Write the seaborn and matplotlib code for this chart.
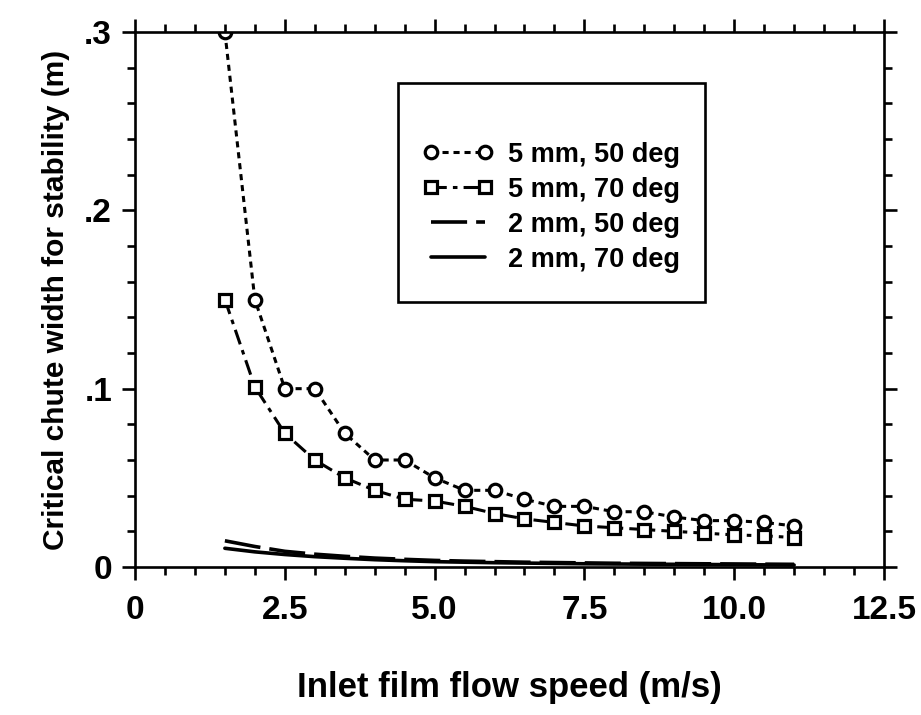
import matplotlib
matplotlib.use("Agg")
import matplotlib.pyplot as plt
import seaborn as sns
import numpy as np
from matplotlib.patches import Rectangle
from matplotlib.ticker import FixedLocator, FixedFormatter, MultipleLocator

# ---- data ----
speed = [1.5, 2.0, 2.5, 3.0, 3.5, 4.0, 4.5, 5.0, 5.5, 6.0,
         6.5, 7.0, 7.5, 8.0, 8.5, 9.0, 9.5, 10.0, 10.5, 11.0]
w_5mm_50 = [0.300, 0.150, 0.100, 0.100, 0.075, 0.060, 0.060, 0.050, 0.043, 0.043,
            0.038, 0.034, 0.034, 0.031, 0.031, 0.028, 0.026, 0.026, 0.025, 0.023]
w_5mm_70 = [0.150, 0.101, 0.075, 0.060, 0.050, 0.043, 0.038, 0.037, 0.034, 0.030,
            0.027, 0.025, 0.023, 0.022, 0.021, 0.020, 0.019, 0.018, 0.0175, 0.0165]
w_2mm_50 = [0.0147, 0.0115, 0.0088, 0.0072, 0.0060, 0.0050, 0.0043, 0.0037, 0.0033, 0.0030,
            0.0027, 0.0025, 0.0023, 0.0021, 0.0020, 0.0019, 0.0018, 0.0017, 0.0016, 0.0015]
w_2mm_70 = [0.0105, 0.0085, 0.0070, 0.0058, 0.0049, 0.0041, 0.0035, 0.0030, 0.0027, 0.0024,
            0.0022, 0.0020, 0.0018, 0.0017, 0.0016, 0.0015, 0.0014, 0.0013, 0.0012, 0.0011]
labels = ["5 mm, 50 deg", "5 mm, 70 deg", "2 mm, 50 deg", "2 mm, 70 deg"]

x_ticks = [0, 2.5, 5.0, 7.5, 10.0, 12.5]
x_ticklabels = ["0", "2.5", "5.0", "7.5", "10.0", "12.5"]
y_ticks = [0, 0.1, 0.2, 0.3]
y_ticklabels = ["0", ".1", ".2", ".3"]
x_label = "Inlet film flow speed (m/s)"
y_label = "Critical chute width for stability (m)"

sns.set_style("ticks")
plt.rcParams['font.family'] = ['Liberation Sans', 'DejaVu Sans']
plt.rcParams['text.color'] = 'black'
plt.rcParams['axes.labelcolor'] = 'black'
plt.rcParams['xtick.color'] = 'black'
plt.rcParams['ytick.color'] = 'black'

fig = plt.figure(figsize=(9.21, 7.15), dpi=100)
L, R, T, B = 135, 884, 32, 567
ax = fig.add_axes([L/921, 1 - B/715, (R-L)/921, (B-T)/715])

mk = dict(markersize=9, markeredgewidth=2.3, markerfacecolor='white',
          markeredgecolor='black')
sns.lineplot(x=speed, y=w_5mm_50, ax=ax, color='black', lw=2.2,
             linestyle=(0, (2.0, 1.6)), marker='o', label=labels[0], **mk)
sns.lineplot(x=speed, y=w_5mm_70, ax=ax, color='black', lw=2.2,
             linestyle=(0, (5, 2, 1.5, 2)), marker='s', label=labels[1], **mk)
sns.lineplot(x=speed, y=w_2mm_50, ax=ax, color='black', lw=2.6,
             linestyle=(0, (10, 2.5)), label=labels[2])
sns.lineplot(x=speed, y=w_2mm_70, ax=ax, color='black', lw=2.6,
             linestyle='-', label=labels[3])

ax.set_xlim(0, 12.5)
ax.set_ylim(0, 0.3)
ax.xaxis.set_major_locator(FixedLocator(x_ticks))
ax.xaxis.set_major_formatter(FixedFormatter(x_ticklabels))
ax.xaxis.set_minor_locator(MultipleLocator(0.5))
ax.yaxis.set_major_locator(FixedLocator(y_ticks))
ax.yaxis.set_major_formatter(FixedFormatter(y_ticklabels))
ax.yaxis.set_minor_locator(MultipleLocator(0.02))

for s in ax.spines.values():
    s.set_visible(True)
    s.set_linewidth(1.9)
    s.set_color('black')
ax.tick_params(which='both', direction='out', top=True, right=True,
               colors='black', width=1.9)
ax.tick_params(which='major', length=9.5)
ax.tick_params(which='minor', length=6)
ax.tick_params(axis='x', which='major', pad=11)
ax.tick_params(axis='y', which='major', pad=7)
for t in ax.get_xticklabels() + ax.get_yticklabels():
    t.set_fontsize(24)
    t.set_fontweight('bold')

ax.set_xlabel(x_label, fontsize=25, fontweight='bold', labelpad=32)
ax.set_ylabel(y_label, fontsize=21.5, fontweight='bold', labelpad=10)

leg = ax.legend(loc='upper left', bbox_to_anchor=(0.37, 0.815), frameon=False,
                handlelength=2.6, handletextpad=0.55,
                labelspacing=0.33, numpoints=2, borderaxespad=0,
                prop={'weight': 'bold', 'size': 19.5})
ax.add_patch(Rectangle((0.351, 0.495), 0.410, 0.410, transform=ax.transAxes,
                       fill=False, lw=1.9, edgecolor='black', zorder=5))

fig.savefig("out.png", dpi=100)
